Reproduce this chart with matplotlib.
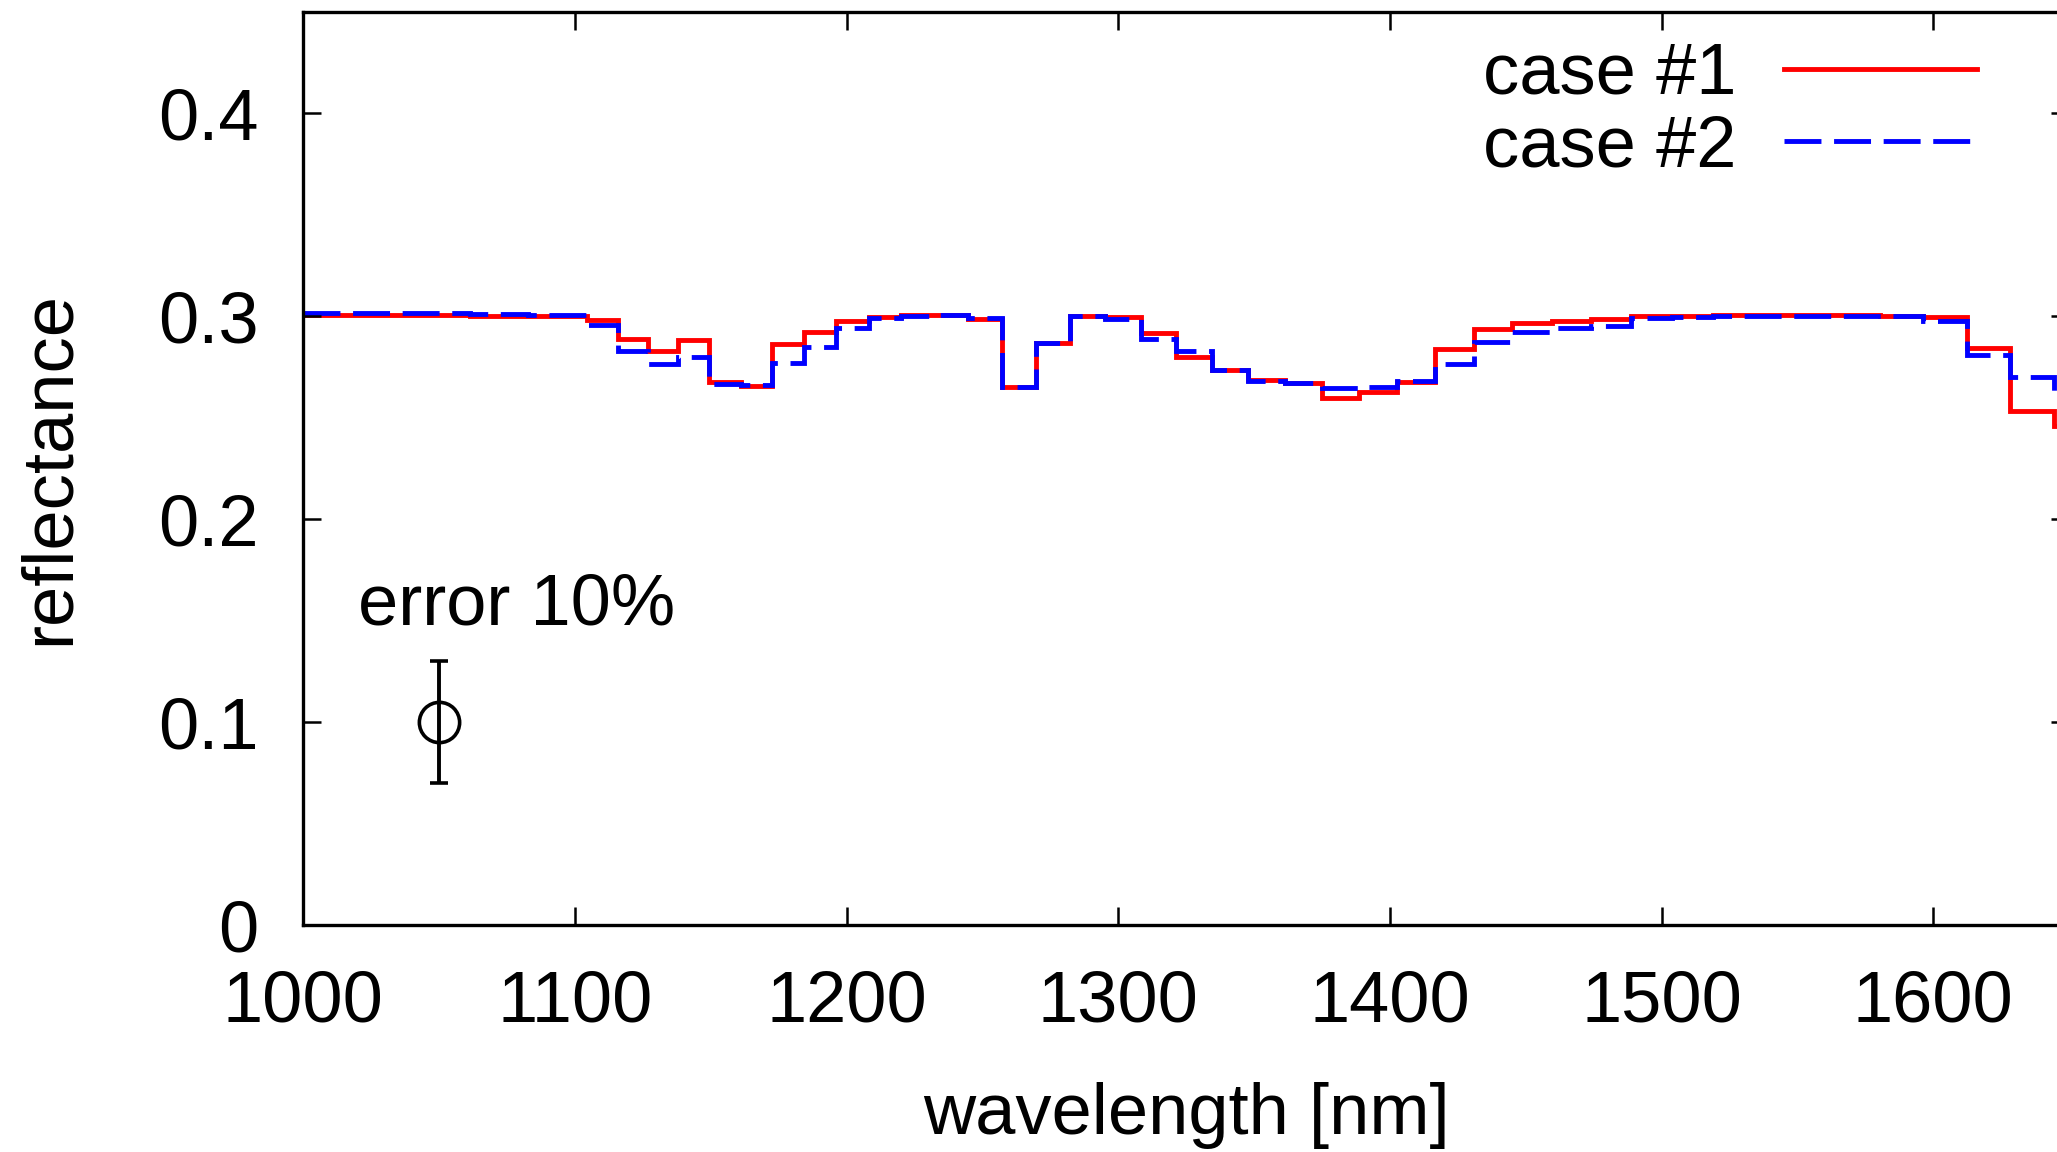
import matplotlib
matplotlib.use("Agg")
import matplotlib.pyplot as plt

plt.rcParams['font.family'] = ['Liberation Sans', 'DejaVu Sans']

# bin edges of the spectrum [nm] (R ~ 100 binning)
edges = [1000.0, 1010.0, 1020.1, 1030.3, 1040.6, 1051.0, 1061.5, 1072.1, 1082.9, 1093.7,
         1104.6, 1115.7, 1126.8, 1138.1, 1149.5, 1161.0, 1172.6, 1184.3, 1196.1, 1208.1,
         1220.2, 1232.4, 1244.7, 1257.2, 1269.7, 1282.4, 1295.2, 1308.2, 1321.3, 1334.5,
         1347.8, 1361.3, 1374.9, 1388.7, 1402.5, 1416.6, 1430.8, 1445.1, 1459.5, 1474.1,
         1488.9, 1503.8, 1518.8, 1534.0, 1549.4, 1564.9, 1580.5, 1596.3, 1612.3, 1628.4,
         1644.6, 1661.1]

# reflectance per bin
case1 = [0.3005, 0.3005, 0.3005, 0.3005, 0.3005, 0.3005, 0.3000, 0.3002, 0.3001, 0.3000,
         0.2981, 0.2889, 0.2828, 0.2885, 0.2675, 0.2655, 0.2864, 0.2923, 0.2976, 0.2997,
         0.3004, 0.3005, 0.2987, 0.2652, 0.2869, 0.3000, 0.2997, 0.2915, 0.2797, 0.2734,
         0.2685, 0.2670, 0.2598, 0.2625, 0.2675, 0.2836, 0.2938, 0.2968, 0.2976, 0.2984,
         0.2999, 0.3002, 0.3004, 0.3004, 0.3004, 0.3004, 0.3003, 0.2995, 0.2844, 0.2532,
         0.2458]
case2 = [0.3017, 0.3017, 0.3017, 0.3016, 0.3016, 0.3015, 0.3010, 0.3009, 0.3008, 0.3006,
         0.2959, 0.2828, 0.2765, 0.2800, 0.2667, 0.2663, 0.2770, 0.2849, 0.2943, 0.2992,
         0.3000, 0.3005, 0.2990, 0.2652, 0.2869, 0.3000, 0.2987, 0.2889, 0.2828, 0.2734,
         0.2680, 0.2672, 0.2645, 0.2653, 0.2680, 0.2762, 0.2872, 0.2923, 0.2940, 0.2954,
         0.2989, 0.2998, 0.3003, 0.3003, 0.3003, 0.3003, 0.3003, 0.2976, 0.2811, 0.2701,
         0.2620]

x_ticks = [1000, 1100, 1200, 1300, 1400, 1500, 1600]
y_ticks = [0, 0.1, 0.2, 0.3, 0.4]
y_tick_labels = ['0', '0.1', '0.2', '0.3', '0.4']

# sample error bar (10 %)
err_x = [1050]
err_y = [0.1]
err_size = [0.03]

FS = 52

fig = plt.figure(figsize=(20.57, 11.52), dpi=100)
ax = fig.add_axes([0.1474, 0.1970, 0.8585, 0.7928])  # right edge runs off the canvas

ax.stairs(case1, edges, baseline=None, color='#ff0000', lw=3.5, label='case #1')
ax.stairs(case2, edges, baseline=None, color='#0000ff', lw=3.5,
          linestyle=(0, (7.6, 2.6)), label='case #2')

ax.errorbar(err_x, err_y, yerr=err_size, fmt='o', mfc='none', mec='black', ms=29, mew=2.6,
            ecolor='black', elinewidth=2.8, capsize=6.5, capthick=2.8)
ax.text(1020, 0.148, 'error 10%', fontsize=FS, ha='left', va='baseline')

ax.set_xlim(1000, 1650)
ax.set_ylim(0, 0.45)
ax.set_xticks(x_ticks)
ax.set_yticks(y_ticks, y_tick_labels)
ax.tick_params(direction='in', length=13, width=1.8, top=True, right=True,
               labelsize=FS, pad=32)
for sp in ax.spines.values():
    sp.set_linewidth(2.4)

ax.set_xlabel('wavelength [nm]', fontsize=FS)
ax.xaxis.set_label_coords(0.5, -0.172)
ax.set_ylabel('reflectance', fontsize=FS)
ax.yaxis.set_label_coords(-0.1245, 0.5)

ax.legend(loc='upper right', bbox_to_anchor=(0.948, 0.967), frameon=False, fontsize=FS,
          markerfirst=False, handlelength=2.68, handletextpad=0.65, labelspacing=0.08,
          borderpad=0, borderaxespad=0)

fig.savefig('out.png', dpi=100)
